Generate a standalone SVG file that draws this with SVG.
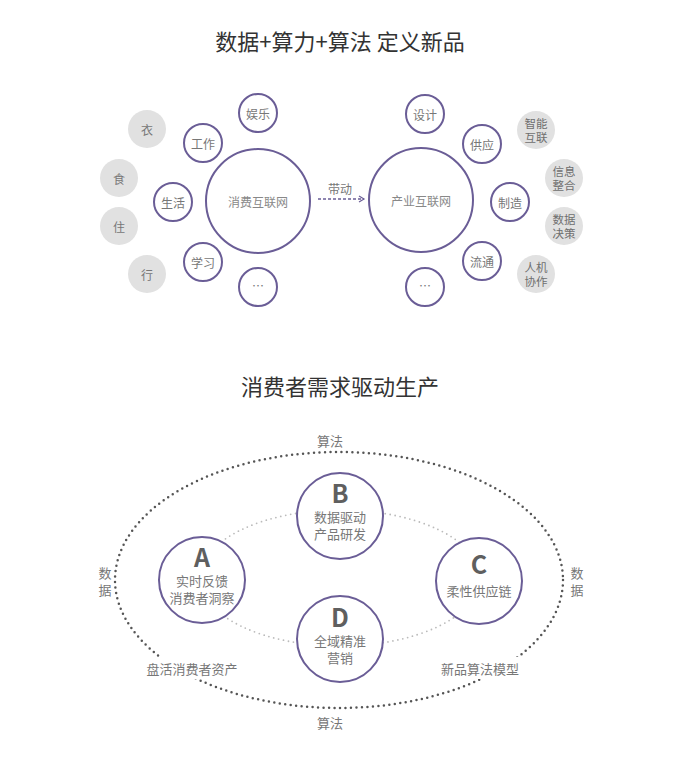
<svg xmlns="http://www.w3.org/2000/svg" width="681" height="759" viewBox="0 0 681 759">
<style>
text{font-family:"Noto Sans CJK SC","Noto Sans",sans-serif;fill:#777;text-anchor:middle;dominant-baseline:central}
.title{font-size:22px;fill:#333}
.s{font-size:12px}
.t{font-size:11.5px;fill:#6f6f6f}
.m{font-size:13px}
.big{font-size:12px;fill:#888}
.pc{fill:#fff;stroke:#6a5d96;stroke-width:2}
.gc{fill:#e1e1e1;stroke:none}
.L{font-size:25px;fill:#5f5f5f;font-weight:600}
.outer{fill:none;stroke:#555;stroke-width:2.5;stroke-dasharray:0 5.5;stroke-linecap:round}
.inner{fill:none;stroke:#bbb;stroke-width:1.8;stroke-dasharray:0 5;stroke-linecap:round}
</style>
<defs>
<marker id="ah" markerWidth="8" markerHeight="8" refX="6" refY="4" orient="auto" markerUnits="userSpaceOnUse">
<path d="M1,1 L6,4 L1,7" fill="none" stroke="#6a5d96" stroke-width="1.2"/>
</marker>
</defs>
<rect width="681" height="759" fill="#fff"/>
<text class="title" x="340" y="40">数据+算力+算法 定义新品</text>
<text class="title" x="340" y="385">消费者需求驱动生产</text>

<g id="connectors">
<line x1="318" y1="199" x2="364" y2="199" stroke="#6a5d96" stroke-width="1.5" stroke-dasharray="3 2" marker-end="url(#ah)"/>
<text class="s" x="340" y="188">带动</text>
<ellipse class="outer" cx="339" cy="580" rx="224" ry="128"/>
<ellipse class="inner" cx="340" cy="578" rx="140" ry="68"/>
</g>

<g id="left-hub"><circle class="pc" cx="258" cy="201" r="52"/><text class="big" x="258" y="201">消费互联网</text></g>
<g id="right-hub"><circle class="pc" cx="421" cy="200" r="52"/><text class="big" x="421" y="200">产业互联网</text></g>

<g id="yule"><circle class="pc" cx="258" cy="113" r="19"/><text class="s" x="258" y="113">娱乐</text></g>
<g id="gongzuo"><circle class="pc" cx="203" cy="143" r="19"/><text class="s" x="203" y="143">工作</text></g>
<g id="shenghuo"><circle class="pc" cx="173" cy="202" r="19"/><text class="s" x="173" y="202">生活</text></g>
<g id="xuexi"><circle class="pc" cx="203" cy="262" r="19"/><text class="s" x="203" y="262">学习</text></g>
<g id="more-l"><circle class="pc" cx="258" cy="287" r="19"/><text class="s" x="258" y="285">…</text></g>

<g id="yi"><circle class="gc" cx="147" cy="129" r="19"/><text class="s" x="147" y="129">衣</text></g>
<g id="shi"><circle class="gc" cx="119" cy="178" r="19"/><text class="s" x="119" y="178">食</text></g>
<g id="zhu"><circle class="gc" cx="119" cy="226" r="19"/><text class="s" x="119" y="226">住</text></g>
<g id="xing"><circle class="gc" cx="147" cy="274" r="19"/><text class="s" x="147" y="274">行</text></g>

<g id="sheji"><circle class="pc" cx="425" cy="114" r="19"/><text class="s" x="425" y="114">设计</text></g>
<g id="gongying"><circle class="pc" cx="482" cy="144" r="19"/><text class="s" x="482" y="144">供应</text></g>
<g id="zhizao"><circle class="pc" cx="510" cy="202" r="19"/><text class="s" x="510" y="202">制造</text></g>
<g id="liutong"><circle class="pc" cx="482" cy="261" r="19"/><text class="s" x="482" y="261">流通</text></g>
<g id="more-r"><circle class="pc" cx="425" cy="287" r="19"/><text class="s" x="425" y="285">…</text></g>

<g id="zhineng"><circle class="gc" cx="536" cy="130" r="19"/><text class="t" x="536" y="123">智能</text><text class="t" x="536" y="137">互联</text></g>
<g id="xinxi"><circle class="gc" cx="564" cy="178" r="19"/><text class="t" x="564" y="171">信息</text><text class="t" x="564" y="185">整合</text></g>
<g id="shuju"><circle class="gc" cx="564" cy="226" r="19"/><text class="t" x="564" y="219">数据</text><text class="t" x="564" y="233">决策</text></g>
<g id="renji"><circle class="gc" cx="536" cy="274" r="19"/><text class="t" x="536" y="267">人机</text><text class="t" x="536" y="281">协作</text></g>

<g id="labels">
<text class="m" x="330" y="440">算法</text>
<text class="m" x="330" y="722">算法</text>
<text class="m" x="105" y="572">数</text><text class="m" x="105" y="589">据</text>
<text class="m" x="577" y="572">数</text><text class="m" x="577" y="589">据</text>
<rect x="140" y="657" width="104" height="22" fill="#fff"/>
<text class="m" x="192" y="668">盘活消费者资产</text>
<rect x="437" y="657" width="88" height="22" fill="#fff"/>
<text class="m" x="480" y="668">新品算法模型</text>
</g>

<g id="nodeA"><circle class="pc" cx="202" cy="580" r="43"/><text class="L" x="202" y="556">A</text><text class="m" x="202" y="580">实时反馈</text><text class="m" x="202" y="597">消费者洞察</text></g>
<g id="nodeB"><circle class="pc" cx="340" cy="516" r="43"/><text class="L" x="340" y="492">B</text><text class="m" x="340" y="516">数据驱动</text><text class="m" x="340" y="533">产品研发</text></g>
<g id="nodeC"><circle class="pc" cx="479" cy="581" r="43"/><text class="L" x="479" y="563">C</text><text class="m" x="479" y="590">柔性供应链</text></g>
<g id="nodeD"><circle class="pc" cx="340" cy="639" r="43"/><text class="L" x="340" y="616">D</text><text class="m" x="340" y="640">全域精准</text><text class="m" x="340" y="657">营销</text></g>
</svg>
